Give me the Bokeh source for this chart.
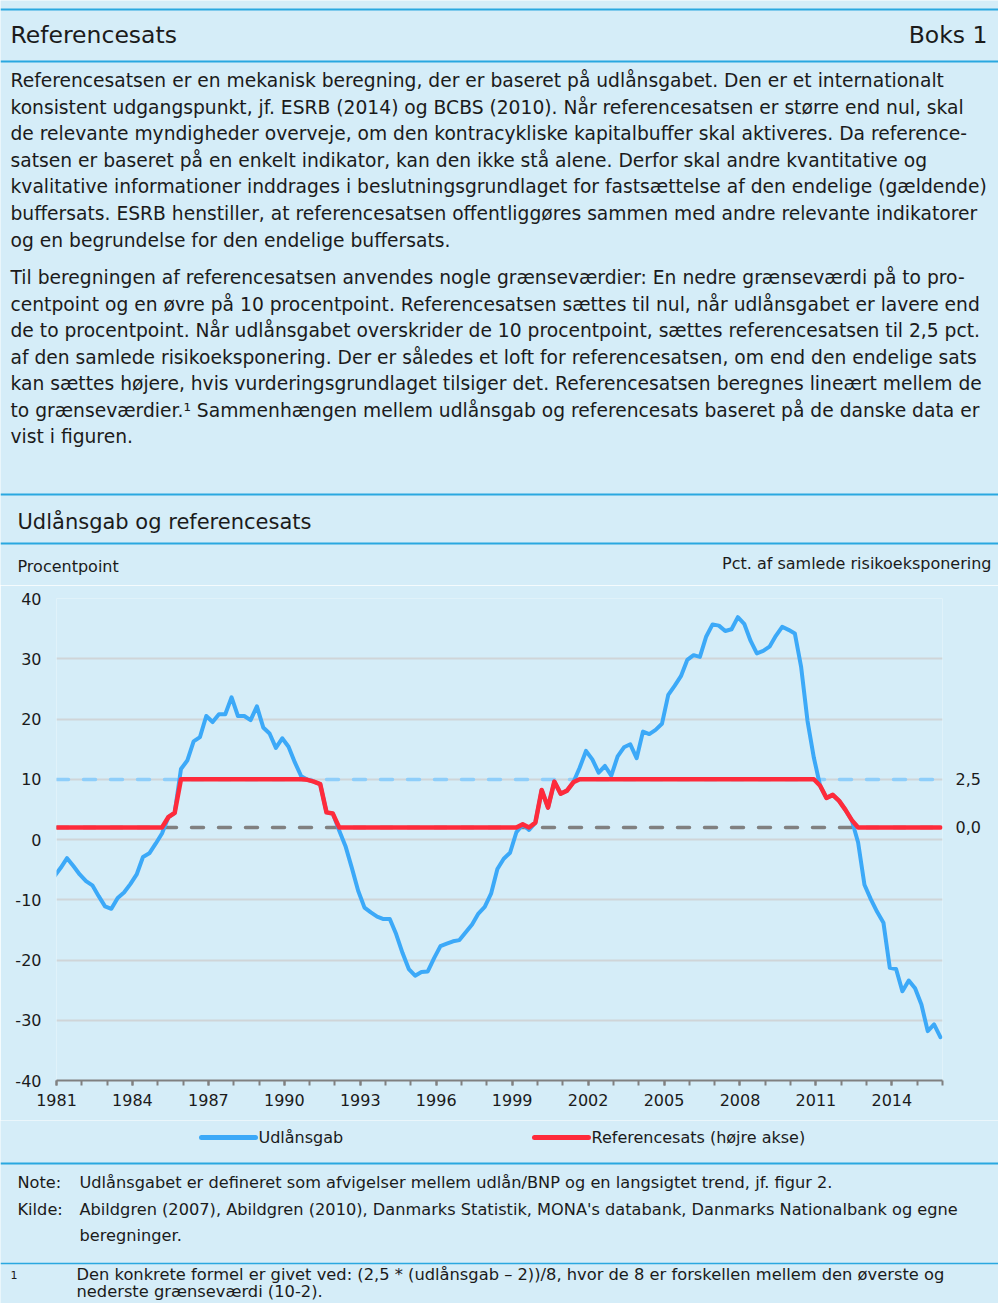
import pandas as pd
from bokeh.plotting import figure
from bokeh.models import Range1d, LinearAxis, FixedTicker, Label, ColumnDataSource
from bokeh.layouts import column, row
from bokeh.embed import file_html
from bokeh.resources import INLINE

# ---------------- data ----------------
# quarterly observations (plotted at the first day of the quarter's last month)
quarters = pd.date_range("1980-12-01", periods=141, freq="3MS")

# Udlånsgab, procentpoint (left axis)
udlaansgab = [
    -6.1, -4.7, -3.1, -4.4, -5.8, -6.9, -7.6, -9.4, -11.1, -11.5,
    -9.7, -8.8, -7.4, -5.8, -2.9, -2.3, -0.7, 1.0, 3.7, 4.4,
    11.7, 13.1, 16.3, 17.0, 20.5, 19.5, 20.8, 20.8, 23.6, 20.5,
    20.5, 19.8, 22.1, 18.6, 17.6, 15.2, 16.8, 15.4, 12.8, 10.5,
    9.9, 9.6, 9.2, 4.5, 4.3, 1.5, -1.1, -4.7, -8.5, -11.3,
    -12.1, -12.8, -13.2, -13.2, -15.7, -18.8, -21.5, -22.6, -22.0, -21.9,
    -19.7, -17.7, -17.3, -16.9, -16.7, -15.4, -14.1, -12.3, -11.2, -9.0,
    -4.9, -3.2, -2.2, 1.2, 2.5, 1.6, 2.8, 8.2, 5.3, 9.6,
    7.6, 8.1, 9.5, 11.9, 14.7, 13.3, 11.1, 12.2, 10.6, 13.8,
    15.3, 15.8, 13.5, 17.9, 17.5, 18.2, 19.2, 24.0, 25.5, 27.1,
    29.8, 30.6, 30.3, 33.7, 35.7, 35.5, 34.6, 34.9, 36.9, 35.8,
    33.0, 30.9, 31.3, 32.0, 33.8, 35.3, 34.8, 34.2, 28.6, 19.7,
    13.6, 8.9, 6.9, 7.4, 6.4, 4.9, 3.2, -0.5, -7.5, -9.9,
    -12.0, -13.8, -21.3, -21.5, -25.2, -23.4, -24.7, -27.4, -31.8, -30.7,
    -32.8,
]

# Referencesats, pct. af samlede risikoeksponering (right axis)
referencesats = [
    0.0, 0.0, 0.0, 0.0, 0.0, 0.0, 0.0, 0.0, 0.0, 0.0,
    0.0, 0.0, 0.0, 0.0, 0.0, 0.0, 0.0, 0.0, 0.53, 0.75,
    2.5, 2.5, 2.5, 2.5, 2.5, 2.5, 2.5, 2.5, 2.5, 2.5,
    2.5, 2.5, 2.5, 2.5, 2.5, 2.5, 2.5, 2.5, 2.5, 2.5,
    2.47, 2.38, 2.25, 0.78, 0.72, 0.0, 0.0, 0.0, 0.0, 0.0,
    0.0, 0.0, 0.0, 0.0, 0.0, 0.0, 0.0, 0.0, 0.0, 0.0,
    0.0, 0.0, 0.0, 0.0, 0.0, 0.0, 0.0, 0.0, 0.0, 0.0,
    0.0, 0.0, 0.0, 0.0, 0.16, 0.0, 0.25, 1.94, 1.03, 2.38,
    1.75, 1.91, 2.34, 2.5, 2.5, 2.5, 2.5, 2.5, 2.5, 2.5,
    2.5, 2.5, 2.5, 2.5, 2.5, 2.5, 2.5, 2.5, 2.5, 2.5,
    2.5, 2.5, 2.5, 2.5, 2.5, 2.5, 2.5, 2.5, 2.5, 2.5,
    2.5, 2.5, 2.5, 2.5, 2.5, 2.5, 2.5, 2.5, 2.5, 2.5,
    2.5, 2.16, 1.53, 1.69, 1.38, 0.91, 0.38, 0.0, 0.0, 0.0,
    0.0, 0.0, 0.0, 0.0, 0.0, 0.0, 0.0, 0.0, 0.0, 0.0,
    0.0,
]

nedre_graense = 2      # procentpoint
oevre_graense = 10     # procentpoint
maks_sats = 2.5        # pct.

x_ticks = [1981, 1984, 1987, 1990, 1993, 1996, 1999, 2002, 2005, 2008, 2011, 2014]
x_minor_ticks = list(range(1981, 2017))
y_ticks = [-40, -30, -20, -10, 0, 10, 20, 30, 40]
y_tick_labels = {-40: "-40", -30: "-30", -20: "-20", -10: "-10", 0: "0",
                 10: "10", 20: "20", 30: "30", 40: "40"}
right_ticks = [0, 2.5]
right_tick_labels = {0: "0,0", 2.5: "2,5"}

series_names = ["Udlånsgab", "Referencesats (højre akse)"]

header_title = "Referencesats"
header_box = "Boks 1"
paragraph1 = [
    "Referencesatsen er en mekanisk beregning, der er baseret på udlånsgabet. Den er et internationalt",
    "konsistent udgangspunkt, jf. ESRB (2014) og BCBS (2010). Når referencesatsen er større end nul, skal",
    "de relevante myndigheder overveje, om den kontracykliske kapitalbuffer skal aktiveres. Da reference-",
    "satsen er baseret på en enkelt indikator, kan den ikke stå alene. Derfor skal andre kvantitative og",
    "kvalitative informationer inddrages i beslutningsgrundlaget for fastsættelse af den endelige (gældende)",
    "buffersats. ESRB henstiller, at referencesatsen offentliggøres sammen med andre relevante indikatorer",
    "og en begrundelse for den endelige buffersats.",
]
paragraph2 = [
    "Til beregningen af referencesatsen anvendes nogle grænseværdier: En nedre grænseværdi på to pro-",
    "centpoint og en øvre på 10 procentpoint. Referencesatsen sættes til nul, når udlånsgabet er lavere end",
    "de to procentpoint. Når udlånsgabet overskrider de 10 procentpoint, sættes referencesatsen til 2,5 pct.",
    "af den samlede risikoeksponering. Der er således et loft for referencesatsen, om end den endelige sats",
    "kan sættes højere, hvis vurderingsgrundlaget tilsiger det. Referencesatsen beregnes lineært mellem de",
    "to grænseværdier.¹ Sammenhængen mellem udlånsgab og referencesats baseret på de danske data er",
    "vist i figuren.",
]
chart_title = "Udlånsgab og referencesats"
left_unit = "Procentpoint"
right_unit = "Pct. af samlede risikoeksponering"
note_text = "Udlånsgabet er defineret som afvigelser mellem udlån/BNP og en langsigtet trend, jf. figur 2."
source_lines = [
    "Abildgren (2007), Abildgren (2010), Danmarks Statistik, MONA's databank, Danmarks Nationalbank og egne",
    "beregninger.",
]
footnote_lines = [
    "Den konkrete formel er givet ved: (2,5 * (udlånsgab – 2))/8, hvor de 8 er forskellen mellem den øverste og",
    "nederste grænseværdi (10-2).",
]

# ---------------- style ----------------
W = 998
BG = "#d5edf8"
RULE = "#2aa8e0"
TXT = "#1b1b1b"
BLUE = "#3ca9f8"
RED = "#fe2b3b"
LDASH = "#8ecefa"
GDASH = "#808080"
GRID = "#d0d5d8"
AXIS = "#808080"
FONT = "DejaVu Sans"


def blank(height):
    f = figure(width=W, height=height, x_range=Range1d(0, W), y_range=Range1d(height, 0),
               x_axis_type=None, y_axis_type=None, toolbar_location=None,
               output_backend="svg", min_border=0,
               min_border_left=0, min_border_right=0, min_border_top=0, min_border_bottom=0,
               outline_line_color=None,
               background_fill_color=BG, border_fill_color=BG)
    f.grid.visible = False
    return f


def txt(f, x, y, s, size, align="left", color=TXT):
    f.add_layout(Label(x=x, y=y, text=s, text_font=FONT, text_font_size=size,
                       text_color=color, text_align=align, text_baseline="middle"))


def rule(f, y, w=2):
    f.segment(x0=[0], y0=[y], x1=[W], y1=[y], line_color=RULE, line_width=w)


# ---------------- header (page y 0 .. 585) ----------------
H1 = 585
top = blank(H1)
rule(top, 9, 2)
txt(top, 10, 34, header_title, "23.5px")
txt(top, 987, 34, header_box, "23.5px", align="right")
rule(top, 61, 2)
BODY = "18.7px"
p1_y = [80, 106.5, 133, 159.5, 186, 212.5, 239.5]
for yy, line in zip(p1_y, paragraph1):
    txt(top, 10, yy, line, BODY)
p2_y = [277, 303.5, 330, 356.5, 383, 409.5, 436]
for yy, line in zip(p2_y, paragraph2):
    txt(top, 10, yy, line, BODY)
rule(top, 494, 2)
txt(top, 17, 521, chart_title, "21px")
rule(top, 543, 2)
txt(top, 17, 566, left_unit, "16px")
txt(top, 991, 563, right_unit, "16px", align="right")

# ---------------- chart (page y 585 .. 1120) ----------------
H2 = 535
t = quarters.year + (quarters.month - 1) / 12.0
src = ColumnDataSource(dict(t=list(t), gap=udlaansgab, ref=referencesats))

p = figure(width=W, height=H2, x_range=Range1d(1981, 2016), y_range=Range1d(-40, 40),
           min_border_left=56, min_border_right=56, min_border_top=13, min_border_bottom=40,
           toolbar_location=None, output_backend="svg", outline_line_color=None,
           background_fill_color=BG, border_fill_color=BG)

scale = maks_sats / (oevre_graense - nedre_graense)
p.extra_y_ranges = {"ref": Range1d((-40 - nedre_graense) * scale, (40 - nedre_graense) * scale)}

p.xgrid.visible = False
p.ygrid.ticker = FixedTicker(ticks=y_ticks)
p.ygrid.grid_line_color = GRID
p.ygrid.grid_line_width = 2

xa = p.xaxis[0]
xa.ticker = FixedTicker(ticks=x_ticks, minor_ticks=x_minor_ticks)
xa.axis_line_color = AXIS
xa.axis_line_width = 2
xa.major_tick_line_color = AXIS
xa.major_tick_line_width = 2
xa.major_tick_in = 0
xa.major_tick_out = 5
xa.minor_tick_line_color = AXIS
xa.minor_tick_line_width = 2
xa.minor_tick_in = 0
xa.minor_tick_out = 5
xa.major_label_standoff = 8
xa.major_label_text_font = FONT
xa.major_label_text_font_size = "16px"
xa.major_label_text_color = TXT
xa.major_label_overrides = {v: str(v) for v in x_ticks}

ya = p.yaxis[0]
ya.ticker = FixedTicker(ticks=y_ticks)
ya.major_label_overrides = y_tick_labels
ya.axis_line_color = None
ya.major_tick_line_color = None
ya.minor_tick_line_color = None
ya.major_tick_in = 0
ya.major_tick_out = 0
ya.major_label_standoff = 15
ya.major_label_text_font = FONT
ya.major_label_text_font_size = "16px"
ya.major_label_text_color = TXT

ra = LinearAxis(y_range_name="ref", ticker=FixedTicker(ticks=right_ticks),
                major_label_overrides=right_tick_labels,
                axis_line_color=None, major_tick_line_color=None, minor_tick_line_color=None,
                major_tick_in=0, major_tick_out=0, major_label_standoff=13,
                major_label_text_font=FONT, major_label_text_font_size="16px",
                major_label_text_color=TXT)
p.add_layout(ra, "right")

p.hspan(y=[oevre_graense], line_color=LDASH, line_width=3.5, line_dash="12 15", line_cap="round")
p.hspan(y=[nedre_graense], line_color=GDASH, line_width=3.5, line_dash="12 15", line_cap="round")

p.line("t", "gap", source=src, line_color=BLUE, line_width=4, line_join="round", line_cap="round")
p.line("t", "ref", source=src, y_range_name="ref", line_color=RED, line_width=4.5,
       line_join="round", line_cap="round")

# ---------------- footer (page y 1120 .. 1303) ----------------
H3 = 183
bot = blank(H3)
bot.segment(x0=[201], y0=[17], x1=[255], y1=[17], line_color=BLUE, line_width=5, line_cap="round")
txt(bot, 258, 17, series_names[0], "16px")
bot.segment(x0=[534], y0=[17], x1=[588], y1=[17], line_color=RED, line_width=5, line_cap="round")
txt(bot, 591, 17, series_names[1], "16px")
rule(bot, 43, 2)
NOTE = "16.2px"
txt(bot, 17, 62, "Note:", NOTE)
txt(bot, 79, 62, note_text, NOTE)
txt(bot, 17, 89, "Kilde:", NOTE)
txt(bot, 79, 89, source_lines[0], NOTE)
txt(bot, 79, 115, source_lines[1], NOTE)
rule(bot, 143, 1.5)
txt(bot, 10, 154, "1", "11px")
txt(bot, 76, 154, footnote_lines[0], "16.3px")
txt(bot, 76, 171, footnote_lines[1], "16.3px")

page = column(column(top), p, row(bot), spacing=0)
open("out.html", "w").write(file_html(page, INLINE))
